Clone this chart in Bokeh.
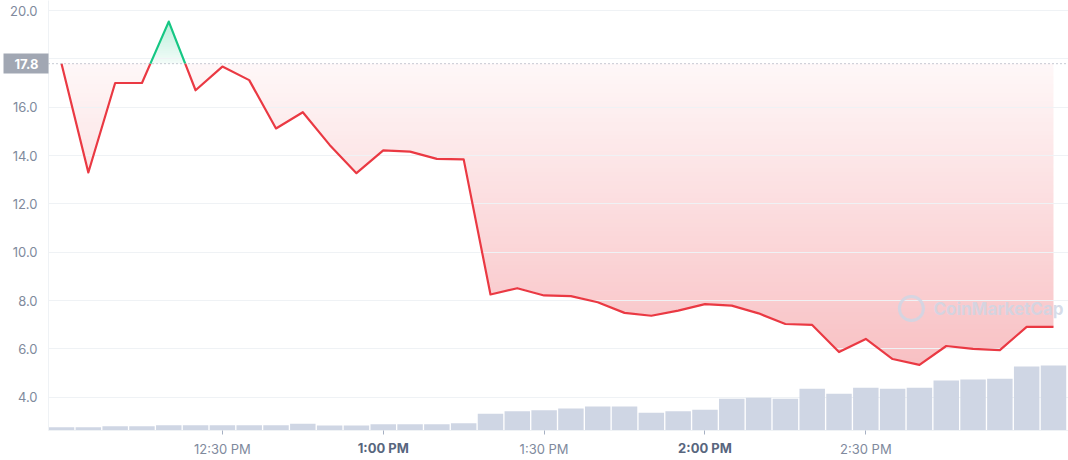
import numpy as np
from bokeh.plotting import figure
from bokeh.models import (Range1d, FixedTicker, Span, Label, LinearAxis,
                          PrintfTickFormatter, GlobalInlineStyleSheet)
from bokeh.embed import file_html
from bokeh.resources import INLINE

# ---------------- data ----------------
minutes = [0, 5, 10, 15, 20, 25, 30, 35, 40, 45, 50, 55, 60, 65, 70, 75, 80, 85, 90,
           95, 100, 105, 110, 115, 120, 125, 130, 135, 140, 145, 150, 155, 160, 165,
           170, 175, 180, 185]  # minutes after 12:00 PM
price = [17.80, 13.30, 17.00, 17.00, 19.54, 16.70, 17.68, 17.12, 15.12, 15.79,
         14.44, 13.27, 14.21, 14.16, 13.86, 13.84, 8.25, 8.51, 8.21, 8.18,
         7.93, 7.49, 7.37, 7.58, 7.85, 7.79, 7.47, 7.03, 6.99, 5.87,
         6.41, 5.58, 5.34, 6.12, 6.00, 5.95, 6.91, 6.91]
volume = [33, 33, 43, 43, 53, 53, 53, 53, 53, 67,
          50, 50, 63, 63, 63, 73, 167, 193, 203, 220,
          240, 240, 177, 193, 207, 317, 327, 317, 417, 367,
          427, 417, 427, 500, 510, 517, 640, 650]
base_price = 17.8
base_label = "17.8"
y_ticks = [4, 6, 8, 10, 12, 14, 16, 18, 20]
x_tick_pos = [30, 60, 90, 120, 150]
x_tick_labels = ["12:30 PM", "1:00 PM", "1:30 PM", "2:00 PM", "2:30 PM"]
x_tick_bold = [False, True, False, True, False]

RED = "#ea3943"
GREEN = "#16c784"
FONT = "Inter"
LABEL_GRAY = "#808a9d"

X0, X1 = -2.43, 187.8
Y0, Y1 = 2.623, 20.414

p = figure(width=1068, height=460, output_backend="svg", toolbar_location=None,
           x_range=Range1d(X0, X1), y_range=Range1d(Y0, Y1),
           min_border_left=48, min_border_right=0, min_border_top=0, min_border_bottom=30)
p.stylesheets = [GlobalInlineStyleSheet(css="html, body { margin: 0 !important; padding: 0; overflow: hidden; }")]
p.outline_line_color = None
p.background_fill_color = "white"
p.border_fill_color = "white"
p.extra_y_ranges = {"vol": Range1d(0, 4300)}

# grid
p.xgrid.grid_line_color = None
p.ygrid.grid_line_color = "#eff2f5"
p.ygrid.ticker = FixedTicker(ticks=y_ticks)
p.ygrid.level = "underlay"

# --- left: price tag axis (closest to the frame) ---
tag = p.yaxis[0]
tag.ticker = FixedTicker(ticks=[base_price])
tag.major_label_overrides = {base_price: base_label}
tag.major_tick_in = 0
tag.major_tick_out = 45
tag.major_tick_line_width = 20
tag.major_tick_line_color = "#a1a7b3"
tag.major_tick_line_cap = "butt"
tag.minor_tick_line_color = None
tag.axis_line_color = "#eff2f5"
tag.major_label_text_color = "white"
tag.major_label_text_font = FONT
tag.major_label_text_font_size = "13px"
tag.major_label_text_font_style = "bold"
tag.major_label_standoff = -35

# --- left: price tick labels ---
yl = LinearAxis(ticker=FixedTicker(ticks=y_ticks), formatter=PrintfTickFormatter(format="%.1f"))
yl.major_label_overrides = {18: ""}
yl.major_tick_line_color = None
yl.minor_tick_line_color = None
yl.axis_line_color = None
yl.major_label_text_color = LABEL_GRAY
yl.major_label_text_font = FONT
yl.major_label_text_font_size = "13px"
yl.major_label_standoff = -32
p.add_layout(yl, "left")

# --- below: ticks + regular labels ---
xa = p.xaxis[0]
xa.ticker = FixedTicker(ticks=x_tick_pos)
xa.major_label_overrides = {t: ("" if b else l) for t, l, b in zip(x_tick_pos, x_tick_labels, x_tick_bold)}
xa.major_tick_in = 0
xa.major_tick_out = 4
xa.major_tick_line_color = "#a6b0c3"
xa.minor_tick_line_color = None
xa.axis_line_color = "#eff2f5"
xa.major_label_text_color = LABEL_GRAY
xa.major_label_text_font = FONT
xa.major_label_text_font_size = "13px"
xa.major_label_standoff = 6

# --- below: bold hour labels, pulled up onto the same line ---
xb = LinearAxis(ticker=FixedTicker(ticks=x_tick_pos))
xb.major_label_overrides = {t: (l if b else "") for t, l, b in zip(x_tick_pos, x_tick_labels, x_tick_bold)}
xb.major_tick_in = 0
xb.major_tick_out = 0
xb.major_tick_line_color = None
xb.minor_tick_line_color = None
xb.axis_line_color = None
xb.major_label_text_color = "#58667e"
xb.major_label_text_font = FONT
xb.major_label_text_font_size = "13px"
xb.major_label_text_font_style = "bold"
xb.major_label_standoff = -20
p.add_layout(xb, "below")

# --- below: empty spacer axis (outermost) ---
xs_sp = LinearAxis(ticker=FixedTicker(ticks=[0]))
xs_sp.major_label_overrides = {0: "."}
xs_sp.major_tick_in = 0
xs_sp.major_tick_out = 0
xs_sp.major_tick_line_color = None
xs_sp.minor_tick_line_color = None
xs_sp.axis_line_color = None
xs_sp.major_label_text_alpha = 0
xs_sp.major_label_text_font_size = "2px"
xs_sp.major_label_standoff = 0
p.add_layout(xs_sp, "below")

# volume bars
p.vbar(x=minutes, top=volume, bottom=0, width=4.75, y_range_name="vol",
       fill_color="#cfd6e4", line_color=None)

# gradient fill between price line and baseline (rendered as an image)
xs_arr = np.array(minutes, dtype=float)
pr = np.array(price, dtype=float)
ymin, ymax = pr.min(), pr.max()
nx, ny = 992, 344
gx = xs_arr[0] + (np.arange(nx) + 0.5) * (xs_arr[-1] - xs_arr[0]) / nx
gy = ymin + (np.arange(ny) + 0.5) * (ymax - ymin) / ny
L = np.interp(gx, xs_arr, pr)[None, :]
Y = gy[:, None]
red_mask = (Y >= L) & (Y <= base_price)
green_mask = (Y <= L) & (Y >= base_price)
a_red = 0.04 + 0.28 * (base_price - Y) / (base_price - ymin)
a_green = 0.05 + 0.25 * (Y - base_price) / (ymax - base_price)
img = np.zeros((ny, nx, 4), dtype=np.uint8)
img[..., 0] = np.where(green_mask, 22, 234)
img[..., 1] = np.where(green_mask, 199, 57)
img[..., 2] = np.where(green_mask, 132, 67)
alpha = np.where(red_mask, a_red, 0) + np.where(green_mask & ~red_mask, a_green, 0)
img[..., 3] = np.clip(alpha * 255, 0, 255).astype(np.uint8)
img32 = np.ascontiguousarray(img).view(np.uint32).reshape(ny, nx)
r_img = p.image_rgba(image=[img32], x=xs_arr[0], y=ymin,
                     dw=xs_arr[-1] - xs_arr[0], dh=ymax - ymin)
r_img.level = "image"

# baseline dotted
p.add_layout(Span(location=base_price, dimension="width", line_color="#8f98a8",
                  line_width=1, line_dash="1 3"))

# split price line at the baseline into red / green parts
segs_x, segs_y, segs_c = [], [], []
cx, cy = [minutes[0]], [price[0]]
side = price[1] > base_price
for i in range(len(minutes) - 1):
    xa_, ya_, xb_, yb_ = minutes[i], price[i], minutes[i + 1], price[i + 1]
    if (ya_ - base_price) * (yb_ - base_price) < 0:
        t = (base_price - ya_) / (yb_ - ya_)
        xc = xa_ + t * (xb_ - xa_)
        cx.append(xc); cy.append(base_price)
        segs_x.append(cx); segs_y.append(cy); segs_c.append(GREEN if side else RED)
        cx, cy = [xc], [base_price]
        side = yb_ > base_price
    cx.append(xb_); cy.append(yb_)
segs_x.append(cx); segs_y.append(cy); segs_c.append(GREEN if side else RED)

p.multi_line(xs=segs_x, ys=segs_y, line_color=segs_c, line_width=2.2, line_join="round")

# watermark
p.scatter(x=[158.5], y=[7.67], marker="circle", size=24, fill_color=None,
          line_color="#cfd6e4", line_width=3, line_alpha=0.85)
p.add_layout(Label(x=162.6, y=7.67, text="CoinMarketCap", text_font=FONT,
                   text_font_size="17px", text_font_style="bold", text_color="#cfd6e4",
                   text_alpha=0.85, text_align="left", text_baseline="middle"))

open("out.html", "w").write(file_html(p, INLINE))
